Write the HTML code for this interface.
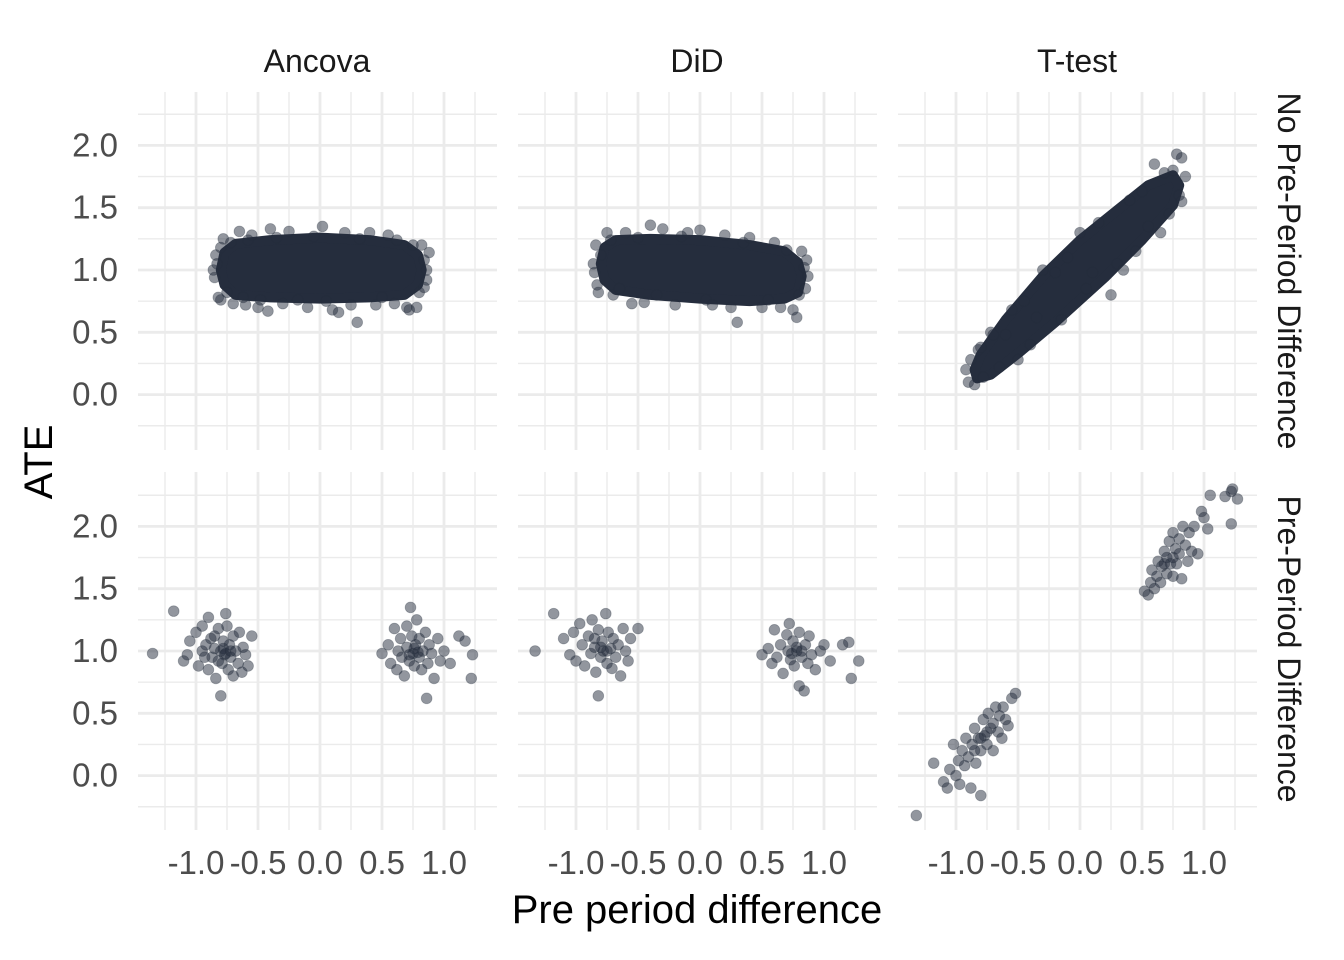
<!DOCTYPE html>
<html><head><meta charset="utf-8"><style>
html,body{margin:0;padding:0;background:#fff;}
svg{display:block;font-family:"Liberation Sans",Arial,sans-serif;}
</style></head><body>
<svg id="chart" width="1344" height="960" viewBox="0 0 1344 960" xmlns="http://www.w3.org/2000/svg">
<defs><clipPath id="clipTop"><rect x="1258" y="92" width="86" height="358"/></clipPath></defs>
<g id="grid"></g><g id="marks"></g><g id="labels"></g>
<text x="697" y="923" font-size="40" text-anchor="middle" fill="#000">Pre period difference</text>
<text transform="translate(52,462) rotate(-90)" font-size="40" text-anchor="middle" fill="#000">ATE</text>
</svg>
<script>
const methods = ["Ancova","DiD","T-test"];
const rowLabels = ["No Pre-Period Difference","Pre-Period Difference"];
const xTicks = [-1.0,-0.5,0.0,0.5,1.0];
const xTickLabels = ["-1.0","-0.5","0.0","0.5","1.0"];
const yTicks = [0.0,0.5,1.0,1.5,2.0];
const yTickLabels = ["0.0","0.5","1.0","1.5","2.0"];
// dense cloud outlines (top row) in data units
const hullAncova = [[-0.8,1.0],[-0.77,1.14],[-0.68,1.21],[-0.4,1.24],[0,1.26],[0.4,1.24],[0.68,1.2],[0.79,1.12],[0.82,1.0],[0.79,0.88],[0.68,0.8],[0.4,0.78],[0,0.77],[-0.4,0.78],[-0.68,0.8],[-0.77,0.88]];
const hullDiD = [[-0.8,1.05],[-0.77,1.18],[-0.68,1.24],[-0.4,1.25],[0,1.24],[0.4,1.2],[0.68,1.15],[0.79,1.06],[0.82,0.95],[0.79,0.82],[0.68,0.77],[0.4,0.75],[0,0.77],[-0.4,0.8],[-0.68,0.84],[-0.77,0.92]];
const hullTtest = [[-0.85,0.2],[-0.8,0.32],[-0.6,0.6],[-0.3,0.95],[0,1.24],[0.3,1.48],[0.55,1.68],[0.75,1.76],[0.8,1.68],[0.75,1.52],[0.5,1.24],[0.2,0.94],[-0.2,0.58],[-0.5,0.33],[-0.72,0.16],[-0.83,0.13]];
const edgeAncova = [[-0.86,1.0],[-0.85,0.94],[-0.84,1.12],[-0.83,1.05],[-0.82,0.78],[-0.8,0.76],[-0.8,1.18],[-0.78,1.25],[-0.75,0.82],[-0.72,1.22],[-0.7,0.73],[-0.65,1.31],[-0.62,0.78],[-0.6,0.72],[-0.58,1.24],[-0.55,1.28],[-0.5,0.7],[-0.48,0.76],[-0.42,0.67],[-0.4,1.33],[-0.35,1.26],[-0.3,0.73],[-0.25,1.31],[-0.18,0.76],[-0.1,0.7],[-0.05,1.27],[0.02,1.35],[0.05,0.75],[0.1,0.68],[0.15,0.66],[0.2,1.3],[0.25,0.72],[0.3,0.58],[0.32,1.25],[0.4,1.3],[0.45,0.72],[0.5,0.78],[0.55,1.28],[0.6,0.73],[0.62,1.24],[0.7,0.7],[0.72,0.68],[0.75,1.2],[0.78,0.7],[0.8,0.82],[0.82,1.2],[0.84,1.08],[0.88,1.14],[0.86,0.92],[0.84,0.86],[0.86,1.0]];
const edgeDiD = [[-0.86,1.05],[-0.84,1.2],[-0.85,0.98],[-0.83,0.88],[-0.82,0.82],[-0.8,1.12],[-0.75,1.3],[-0.72,1.24],[-0.7,0.8],[-0.65,0.85],[-0.6,1.3],[-0.55,0.73],[-0.5,1.26],[-0.45,0.74],[-0.4,1.36],[-0.35,0.8],[-0.3,1.33],[-0.2,0.72],[-0.15,1.27],[-0.1,1.3],[0,1.32],[0.05,0.76],[0.1,0.72],[0.2,1.28],[0.25,0.7],[0.3,0.58],[0.35,1.22],[0.4,1.26],[0.5,0.7],[0.55,0.76],[0.6,1.22],[0.65,0.7],[0.7,1.16],[0.75,0.68],[0.78,0.62],[0.8,0.8],[0.82,1.15],[0.84,1.02],[0.86,1.08],[0.87,0.95],[0.85,0.85]];
const edgeTtest = [[-0.92,0.2],[-0.9,0.1],[-0.88,0.28],[-0.85,0.08],[-0.82,0.36],[-0.8,0.38],[-0.78,0.14],[-0.72,0.5],[-0.7,0.48],[-0.65,0.22],[-0.6,0.48],[-0.55,0.68],[-0.5,0.28],[-0.45,0.75],[-0.4,0.4],[-0.35,0.62],[-0.3,1.0],[-0.2,0.98],[-0.15,0.6],[-0.1,1.1],[0,1.3],[0.05,0.85],[0.1,0.98],[0.15,1.38],[0.25,0.8],[0.3,1.05],[0.35,1.0],[0.4,1.56],[0.45,1.15],[0.5,1.63],[0.55,1.35],[0.6,1.85],[0.65,1.3],[0.68,1.78],[0.72,1.45],[0.75,1.8],[0.78,1.93],[0.82,1.9],[0.8,1.6],[0.85,1.75],[0.82,1.55]];
const botAncova = [[-1.35,0.98],[-1.18,1.32],[-1.1,0.92],[-1.07,0.97],[-1.05,1.08],[-1.0,1.15],[-0.98,0.88],[-0.95,1.2],[-0.95,1.0],[-0.93,0.95],[-0.92,1.05],[-0.9,1.27],[-0.9,0.85],[-0.88,1.1],[-0.87,0.95],[-0.85,1.02],[-0.84,0.78],[-0.82,1.18],[-0.8,1.0],[-0.8,0.64],[-0.79,0.9],[-0.78,1.08],[-0.77,0.97],[-0.76,1.3],[-0.75,1.2],[-0.74,0.85],[-0.73,1.05],[-0.72,0.95],[-0.7,1.12],[-0.7,0.8],[-0.68,1.0],[-0.66,0.9],[-0.65,1.15],[-0.63,0.83],[-0.62,1.03],[-0.6,0.97],[-0.58,0.88],[-0.55,1.12],[-0.85,1.12],[-0.82,0.92],[-0.78,1.02],[-0.76,0.98],[-0.72,1.0],
[0.5,0.98],[0.55,1.05],[0.57,0.9],[0.6,1.18],[0.62,0.85],[0.63,1.0],[0.65,1.1],[0.66,0.95],[0.68,0.8],[0.7,1.2],[0.7,1.03],[0.72,0.92],[0.73,1.35],[0.74,1.12],[0.75,0.98],[0.76,0.88],[0.77,1.05],[0.78,1.25],[0.8,0.95],[0.8,1.1],[0.82,0.85],[0.83,1.0],[0.85,1.15],[0.86,0.62],[0.87,0.9],[0.88,1.05],[0.9,0.98],[0.92,0.78],[0.95,1.1],[0.97,0.92],[1.0,1.0],[1.05,0.9],[1.12,1.12],[1.17,1.08],[1.22,0.78],[1.23,0.97],[0.72,0.97],[0.76,1.02],[0.79,0.99]];
const botDiD = [[-1.33,1.0],[-1.18,1.3],[-1.1,1.1],[-1.05,0.97],[-1.02,1.15],[-1.0,0.92],[-0.97,1.22],[-0.95,1.05],[-0.93,0.88],[-0.9,1.12],[-0.88,0.98],[-0.87,1.25],[-0.85,1.03],[-0.84,0.83],[-0.82,1.17],[-0.82,0.64],[-0.8,0.95],[-0.79,1.08],[-0.78,1.0],[-0.76,1.3],[-0.75,0.9],[-0.74,1.15],[-0.72,1.02],[-0.71,0.86],[-0.7,1.1],[-0.68,0.95],[-0.66,1.05],[-0.64,0.8],[-0.62,1.18],[-0.6,1.0],[-0.58,0.92],[-0.56,1.1],[-0.5,1.18],[-0.85,1.1],[-0.8,1.03],[-0.75,1.0],
[0.5,0.97],[0.55,1.02],[0.58,0.9],[0.6,1.17],[0.62,0.95],[0.65,1.05],[0.67,0.82],[0.7,1.13],[0.71,1.0],[0.72,1.22],[0.73,0.93],[0.75,1.08],[0.76,0.88],[0.78,1.0],[0.8,1.15],[0.8,0.72],[0.82,0.95],[0.84,0.68],[0.85,1.05],[0.87,0.9],[0.88,1.12],[0.9,0.97],[0.93,0.85],[0.97,1.0],[1.0,1.05],[1.05,0.92],[1.15,1.05],[1.2,1.07],[1.22,0.78],[1.28,0.92],[0.74,0.98],[0.78,1.03],[0.82,1.0]];
const botTtest = [[-1.32,-0.32],[-1.18,0.1],[-1.1,-0.05],[-1.07,-0.1],[-1.05,0.05],[-1.02,0.25],[-1.0,0.0],[-0.98,0.12],[-0.97,-0.07],[-0.95,0.2],[-0.93,0.08],[-0.92,0.3],[-0.9,0.15],[-0.88,-0.1],[-0.87,0.25],[-0.85,0.38],[-0.84,0.1],[-0.82,0.3],[-0.8,0.2],[-0.8,-0.16],[-0.78,0.45],[-0.77,0.32],[-0.75,0.25],[-0.74,0.5],[-0.72,0.38],[-0.7,0.42],[-0.7,0.2],[-0.68,0.55],[-0.66,0.35],[-0.65,0.48],[-0.63,0.3],[-0.62,0.55],[-0.6,0.45],[-0.58,0.4],[-0.55,0.62],[-0.52,0.66],[-0.85,0.2],[-0.8,0.3],[-0.75,0.35],
[0.52,1.48],[0.55,1.45],[0.57,1.55],[0.58,1.65],[0.6,1.5],[0.62,1.6],[0.63,1.72],[0.65,1.55],[0.66,1.68],[0.68,1.8],[0.7,1.62],[0.7,1.75],[0.72,1.88],[0.73,1.7],[0.75,1.6],[0.75,1.95],[0.77,1.82],[0.78,1.7],[0.8,1.9],[0.82,1.58],[0.83,2.0],[0.85,1.85],[0.87,1.72],[0.88,1.95],[0.9,1.8],[0.92,2.0],[0.95,1.78],[0.98,2.12],[1.0,2.07],[1.03,1.98],[1.05,2.25],[1.17,2.24],[1.22,2.28],[1.23,2.3],[1.27,2.22],[1.22,2.02],[0.68,1.7],[0.75,1.75],[0.8,1.78]];

const hulls=[hullAncova,hullDiD,hullTtest];
const edges=[edgeAncova,edgeDiD,edgeTtest];
const bots=[botAncova,botDiD,botTtest];

const NS="http://www.w3.org/2000/svg";
const panelLeft=[138,518,898], panelW=359, rowTop=[92,472], panelH=358;
const xZero=[320,700,1080], xScalePx=124;
const yOne=[270,651], yScalePx=124.6;
function sx(c,v){return xZero[c]+v*xScalePx;}
function sy(r,v){return yOne[r]-(v-1)*yScalePx;}
function mk(tag,attrs,parent){const e=document.createElementNS(NS,tag);for(const k in attrs)e.setAttribute(k,attrs[k]);parent.appendChild(e);return e;}
const grid=document.getElementById('grid'),marks=document.getElementById('marks'),labels=document.getElementById('labels');
const GC="#ebebeb";
for(let r=0;r<2;r++){for(let c=0;c<3;c++){
  const L=panelLeft[c],R=L+panelW,T=rowTop[r],B=T+panelH;
  for(let v=-1.25;v<=1.3;v+=0.5){const l=mk('line',{x1:sx(c,v),x2:sx(c,v),y1:T,y2:B,stroke:GC,'stroke-width':1.4},grid);
    }
  for(let v=-0.25;v<=2.3;v+=0.5){const l=mk('line',{x1:L,x2:R,y1:sy(r,v),y2:sy(r,v),stroke:GC,'stroke-width':1.4},grid);
    }
  xTicks.forEach(v=>{const l=mk('line',{x1:sx(c,v),x2:sx(c,v),y1:T,y2:B,stroke:GC,'stroke-width':2.8},grid);
    });
  yTicks.forEach(v=>{const l=mk('line',{x1:L,x2:R,y1:sy(r,v),y2:sy(r,v),stroke:GC,'stroke-width':2.8},grid);
    });
}}
const PC="#252d3d";
const PR=5.4;
for(let c=0;c<3;c++){
  const pts=hulls[c].map(p=>sx(c,p[0])+','+sy(0,p[1])).join(' ');
  const h=mk('polygon',{points:pts,fill:PC,stroke:PC,'stroke-width':10,'stroke-linejoin':'round'},marks);
  
  
  edges[c].forEach(p=>{const e=mk('circle',{cx:sx(c,p[0]),cy:sy(0,p[1]),r:PR,fill:PC,'fill-opacity':0.5,stroke:PC,'stroke-opacity':0.3,'stroke-width':0.8},marks);
    });
  bots[c].forEach(p=>{const e=mk('circle',{cx:sx(c,p[0]),cy:sy(1,p[1]),r:PR,fill:PC,'fill-opacity':0.5,stroke:PC,'stroke-opacity':0.3,'stroke-width':0.8},marks);
    });
}
for(let c=0;c<3;c++){
  const s=mk('text',{x:xZero[c]-3,y:72,'font-size':32,'text-anchor':'middle',fill:'#1a1a1a'},labels);s.textContent=methods[c];
  
  xTicks.forEach((v,i)=>{const t=mk('text',{x:sx(c,v),y:874,'font-size':33,'text-anchor':'middle',fill:'#4d4d4d'},labels);t.textContent=xTickLabels[i];
    });
}
for(let r=0;r<2;r++){
  yTicks.forEach((v,i)=>{const t=mk('text',{x:118,y:sy(r,v)+11,'font-size':33,'text-anchor':'end',fill:'#4d4d4d'},labels);t.textContent=yTickLabels[i];
    });
}
const clipG=mk('g',{'clip-path':'url(#clipTop)'},labels);


const rs1=mk('text',{transform:'translate(1278,'+(rowTop[0]+panelH/2)+') rotate(90)','font-size':32,'text-anchor':'middle',fill:'#1a1a1a'},clipG);
rs1.textContent=rowLabels[0];


const rs2=mk('text',{transform:'translate(1278,'+(rowTop[1]+panelH/2-2)+') rotate(90)','font-size':32,'text-anchor':'middle',fill:'#1a1a1a'},labels);
rs2.textContent=rowLabels[1];


</script>
</body></html>
